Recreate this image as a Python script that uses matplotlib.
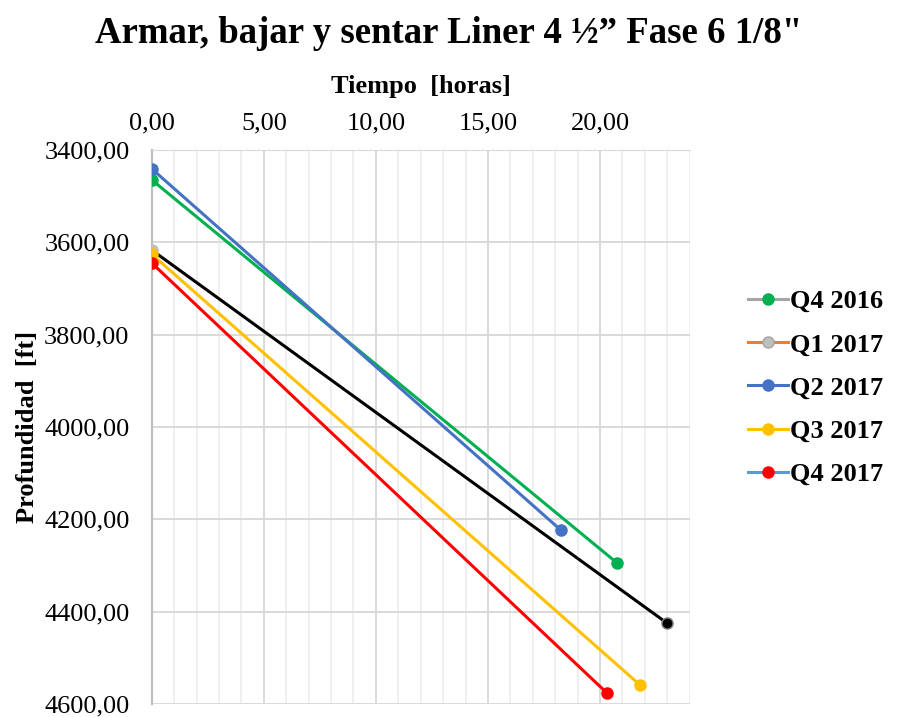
import matplotlib

matplotlib.use("Agg")
import matplotlib.pyplot as plt
from matplotlib.lines import Line2D
from matplotlib.ticker import FixedLocator, FuncFormatter, MultipleLocator

plt.rcParams["font.family"] = ["Liberation Serif", "DejaVu Serif"]

# series: start / end points (time in hours, depth in ft)
series = ["Q4 2016", "Q1 2017", "Q2 2017", "Q3 2017", "Q4 2017"]
tiempo = [[0.0, 20.75], [0.0, 22.97], [0.0, 18.27], [0.0, 21.77], [0.0, 20.31]]
profundidad = [[3465, 4294], [3617, 4424], [3441, 4224], [3626, 4558], [3645, 4576]]

# drawn colours (line, first marker, last marker) and legend colours (line, marker)
line_colors = ["#00b050", "#000000", "#4472c4", "#ffc000", "#ff0000"]
start_marker = ["#00b050", "#bfbfbf", "#4472c4", "#ffc000", "#ff0000"]
end_marker = ["#00b050", "#000000", "#4472c4", "#ffc000", "#ff0000"]
legend_line = ["#a5a5a5", "#ed7d31", "#4472c4", "#ffc000", "#5b9bd5"]
legend_marker = ["#00b050", "#bfbfbf", "#4472c4", "#ffc000", "#ff0000"]

fig = plt.figure(figsize=(8.98, 7.17), dpi=100)
ax = fig.add_axes([0.169, 0.018, 0.599, 0.773])

draw_order = [1, 3, 4, 0, 2]
for i in draw_order:
    ax.plot(tiempo[i], profundidad[i], color=line_colors[i], lw=2.2, zorder=3)
    ax.plot(tiempo[i][0], profundidad[i][0], "o", ms=8, color=start_marker[i], zorder=4)
    ax.plot(tiempo[i][-1], profundidad[i][-1], "o", ms=8, color=end_marker[i],
            mec="#7f7f7f" if i == 1 else end_marker[i], zorder=4)

ax.set_xlim(0, 24)
ax.set_ylim(4600, 3400)
ax.xaxis.tick_top()
ax.xaxis.set_label_position("top")
ax.xaxis.set_major_locator(FixedLocator([0, 5, 10, 15, 20]))
ax.xaxis.set_minor_locator(MultipleLocator(1))
ax.yaxis.set_major_locator(MultipleLocator(200))
comma = FuncFormatter(lambda v, _: f"{v:.2f}".replace(".", ","))
ax.xaxis.set_major_formatter(comma)
ax.yaxis.set_major_formatter(comma)
ax.tick_params(axis="both", which="both", length=0, labelsize=19)
ax.tick_params(axis="x", pad=11)
ax.tick_params(axis="y", pad=16)

ax.grid(True, which="minor", axis="x", color="#ececec", lw=1.2, zorder=0)
ax.grid(True, which="major", axis="x", color="#d9d9d9", lw=1.4, zorder=0)
ax.grid(True, which="major", axis="y", color="#d9d9d9", lw=1.4, zorder=0)
for side in ["right", "bottom"]:
    ax.spines[side].set_visible(False)
ax.spines["top"].set_color("#d9d9d9")
ax.spines["left"].set_color("#bfbfbf")
ax.spines["left"].set_linewidth(1.6)

ax.set_xlabel("Tiempo  [horas]", fontsize=19, fontweight="bold", labelpad=14)
ax.set_ylabel("Profundidad  [ft]", fontsize=19, fontweight="bold", labelpad=4)

fig.suptitle("Armar, bajar y sentar Liner 4 ½” Fase 6 1/8\"", fontsize=26.5,
             fontweight="bold", y=0.978)

handles = [Line2D([0], [0], color=legend_line[i], lw=2.2, marker="o", ms=8,
                  mfc=legend_marker[i], mec=legend_marker[i] if i != 1 else "#a5a5a5")
           for i in range(len(series))]
fig.legend(handles, series, loc="center left", bbox_to_anchor=(0.833, 0.459),
           frameon=False, prop={"size": 19, "weight": "bold"}, handlelength=1.5,
           handletextpad=0.08, labelspacing=0.75, borderpad=0, borderaxespad=0)

fig.savefig("out.png", dpi=100)
